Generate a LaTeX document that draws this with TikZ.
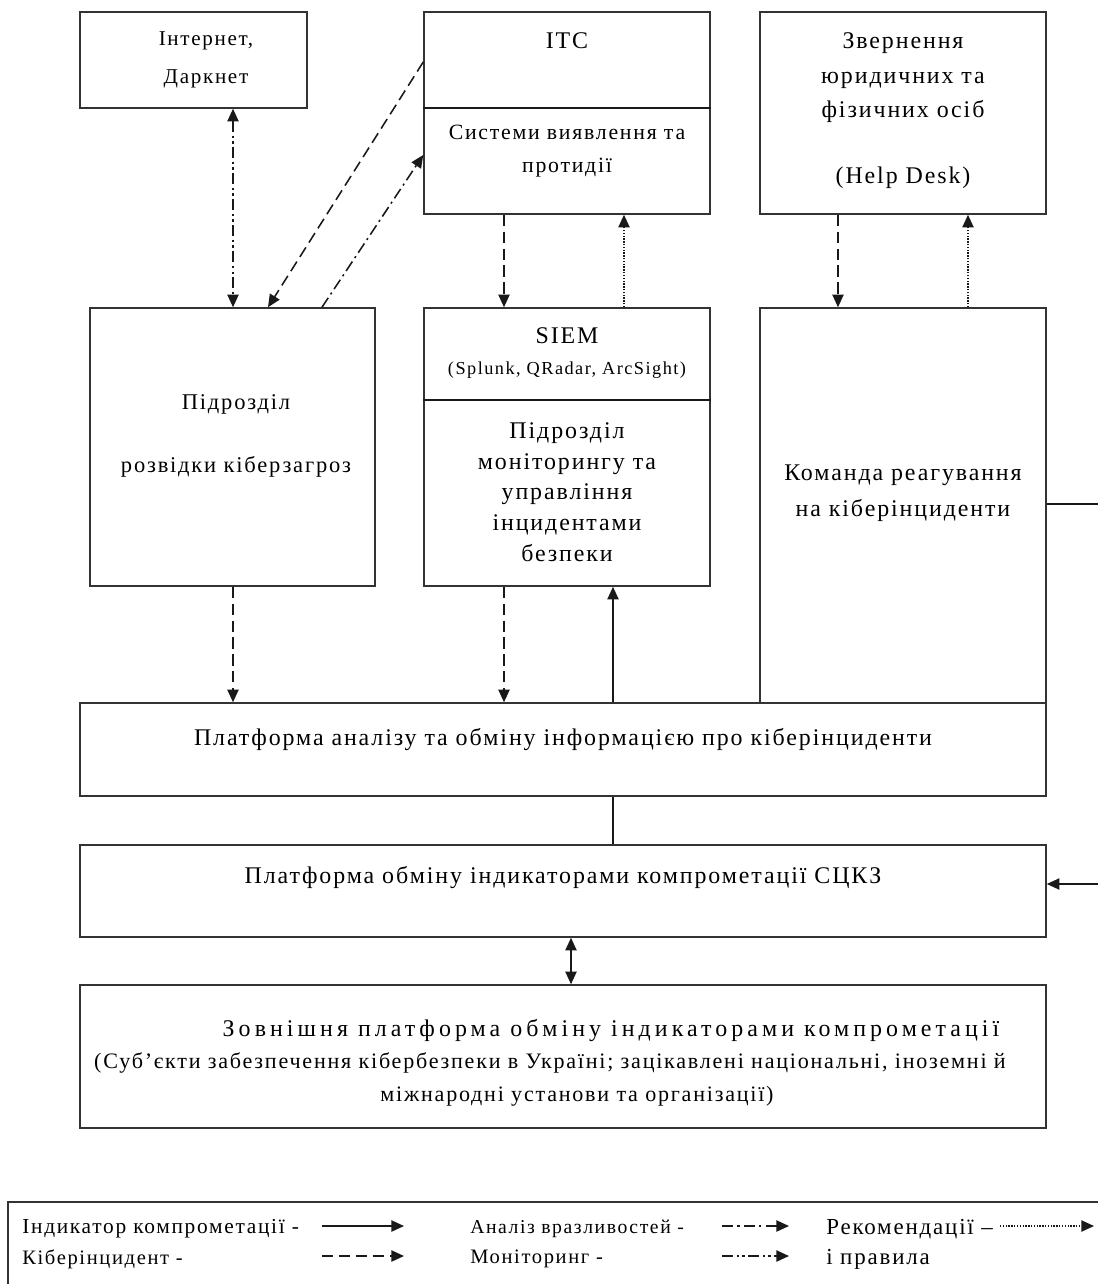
\documentclass[tikz,border=0pt]{standalone}
\usepackage{fontspec}
\setmainfont{Liberation Serif}[LetterSpace=8]
\usetikzlibrary{arrows.meta,fit}
\newcommand\fs[2]{\fontsize{#1}{#2}\selectfont}
\begin{document}
\begin{tikzpicture}[x=0.025cm,y=-0.025cm,
  box/.style={draw=black!80, line width=1.1pt, inner sep=0pt},
  txt/.style={font=\fs{17}{21}, align=center, inner sep=0pt},
  ltxt/.style={font=\fs{14.6}{18}, anchor=west, inner sep=0pt},
  conn/.style={line width=1.1pt, draw=black!90},
  tip/.style={-{Triangle[length=9pt,width=8pt]}},
  both/.style={{Triangle[length=9pt,width=8pt]}-{Triangle[length=9pt,width=8pt]}},
  dsh/.style={dash pattern=on 8pt off 4pt},
  dd/.style={dash pattern=on 8pt off 3pt on 1.5pt off 3pt},
  ddd/.style={dash pattern=on 8pt off 2.5pt on 1.5pt off 2.5pt on 1.5pt off 2.5pt},
  dts/.style={dash pattern=on 1pt off 1pt}
]
\useasboundingbox (0,0) rectangle (1098,1284);
\fill[white] (0,0) rectangle (1098,1284);

% boxes
\node[box, fit={(80,12) (307,108)}] (intr) {};
\node[box, fit={(424,12) (710,214)}] (itc) {};
\draw[conn] (itc.west |- 0,108) -- (itc.east |- 0,108);
\node[box, fit={(760,12) (1046,214)}] (help) {};
\node[box, fit={(90,308) (375,586)}] (razv) {};
\node[box, fit={(424,308) (710,586)}] (siem) {};
\draw[conn] (siem.west |- 0,400) -- (siem.east |- 0,400);
\node[box, fit={(760,308) (1046,703)}] (kom) {};
\node[box, fit={(80,703) (1046,796)}] (plat) {};
\node[box, fit={(80,845) (1046,937)}] (sckz) {};
\node[box, fit={(80,985) (1046,1128)}] (ext) {};
\node[box, fit={(8,1202) (1120,1310)}] (leg) {};

% texts
\node[txt, font=\fs{15}{27}] (t1) at (206,60) {Інтернет,\\Даркнет};
\node[txt] (t2) at (567,41) {ITC};
\node[txt, font=\fs{15.5}{23.5}] (t3) at (567,151) {Системи виявлення та\\протидії};
\node[txt, font=\fs{17}{24.5}] (t4) at (903,78) {Звернення\\юридичних та\\фізичних осіб};
\node[txt] (t4b) at (903,178) {(Help Desk)};
\node[txt, font=\fs{16}{44.8}] (t5) at (236,436) {Підрозділ\\розвідки кіберзагроз};
\node[txt] (t6) at (567,336) {SIEM};
\node[txt, font=\fs{13}{15}] (t6b) at (567,370) {(Splunk, QRadar, ArcSight)};
\node[txt, font=\fs{17}{21.9}] (t7) at (567,492) {Підрозділ\\моніторингу та\\управління\\інцидентами\\безпеки};
\node[txt, font=\fs{17}{25.6}] (t8) at (903,493) {Команда реагування\\на кіберінциденти};
\node[txt] (t9) at (563,740) {Платформа аналізу та обміну інформацією про кіберінциденти};
\node[txt] (t10) at (563,878) {Платформа обміну індикаторами компрометації СЦКЗ};
\node[txt, font=\fs{17}{21}\addfontfeature{LetterSpace=17}] (t11a) at (611,1031) {Зовнішня платформа обміну індикаторами компрометації};
\node[txt, font=\fs{15.7}{21}] (t11b) at (550,1063) {(Суб’єкти забезпечення кібербезпеки в Україні; зацікавлені національні, іноземні й};
\node[txt, font=\fs{15.7}{21}] (t11c) at (577,1096) {міжнародні установи та організації)};

% connectors
\draw[conn,ddd,both] (intr.south -| 233,0) -- (razv.north -| 233,0);
\draw[conn,dsh,tip] (itc.west |- 0,62) -- (razv.north -| 268,0);
\draw[conn,dd,tip] (razv.north -| 322,0) -- (itc.west |- 0,155);
\draw[conn,dsh,tip] (itc.south -| 504,0) -- (siem.north -| 504,0);
\draw[conn,dts,tip] (siem.north -| 624,0) -- (itc.south -| 624,0);
\draw[conn,dsh,tip] (help.south -| 838,0) -- (kom.north -| 838,0);
\draw[conn,dts,tip] (kom.north -| 968,0) -- (help.south -| 968,0);
\draw[conn,dsh,tip] (razv.south -| 233,0) -- (plat.north -| 233,0);
\draw[conn,dsh,tip] (siem.south -| 504,0) -- (plat.north -| 504,0);
\draw[conn,tip] (plat.north -| 613,0) -- (siem.south -| 613,0);
\draw[conn] (plat.south -| 613,0) -- (sckz.north -| 613,0);
\draw[conn,both] (sckz.south -| 571,0) -- (ext.north -| 571,0);
\coordinate (r1) at (1098,504);
\coordinate (r2) at (1098,884);
\draw[conn] (kom.east |- r1) -- (r1);
\draw[conn,tip] (r2) -- (sckz.east |- r2);

% legend
\node[ltxt, font=\fs{15.2}{18}] (l1) at (22,1229) {Індикатор компрометації -};
\node[ltxt] (l2) at (22,1259) {Кіберінцидент -};
\node[ltxt, font=\fs{14}{18}] (l3) at (470,1229) {Аналіз вразливостей -};
\node[ltxt] (l4) at (470,1259) {Моніторинг -};
\node[ltxt, font=\fs{16.3}{18}] (l5) at (826,1229) {Рекомендації –};
\node[ltxt, font=\fs{16.3}{18}] (l6) at (826,1259) {і правила};
\coordinate (a1) at (322,1226); \coordinate (b1) at (404,1226);
\coordinate (a2) at (322,1256); \coordinate (b2) at (404,1256);
\coordinate (a3) at (722,1226); \coordinate (b3) at (789,1226);
\coordinate (a4) at (722,1256); \coordinate (b4) at (789,1256);
\coordinate (a5) at (1000,1226); \coordinate (b5) at (1094,1226);
\draw[conn,tip] (a1) -- (b1);
\draw[conn,dsh,tip] (a2) -- (b2);
\draw[conn,dd,tip] (a3) -- (b3);
\draw[conn,ddd,tip] (a4) -- (b4);
\draw[conn,dts,tip] (a5) -- (b5);
\end{tikzpicture}
\end{document}
